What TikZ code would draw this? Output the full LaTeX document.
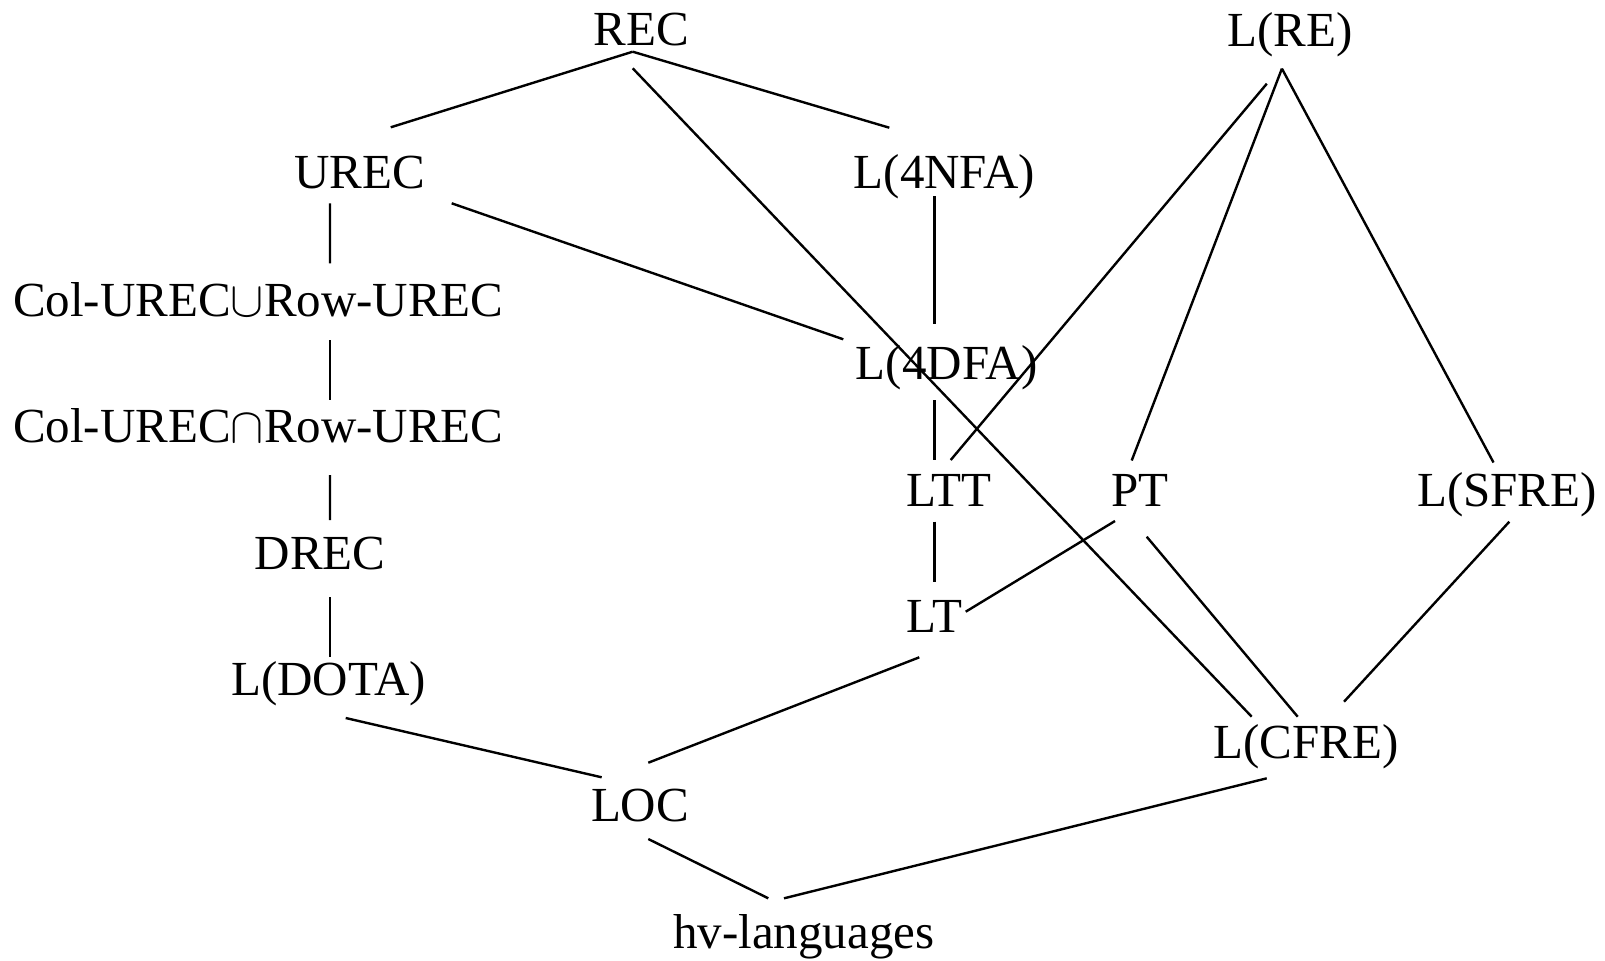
\documentclass[tikz,border=0pt]{standalone}
\usepackage{fontspec}
\setmainfont{Liberation Serif}
\usetikzlibrary{calc}

\tikzset{
  cls/.style={inner sep=0pt, outer sep=0pt, anchor=base,
              font=\fontsize{24.5}{28}\selectfont},
  edge/.style={line width=1.2pt, black}
}

\begin{document}
\begin{tikzpicture}[x=0.5pt, y=-0.5pt]
\useasboundingbox (0,0) rectangle (1605,960);

% language classes (placed by baseline)
\node[cls] (rec)   at (641.3,45.5)  {REC};
\node[cls] (lre)   at (1289.7,46)   {L(RE)};
\node[cls] (urec)  at (359.7,188.3) {UREC};
\node[cls] (l4nfa) at (944.5,188.3) {L(4NFA)};
\node[cls] (colu)  at (258.3,316.7) {Col-UREC$\cup$Row-UREC};
\node[cls] (l4dfa) at (946.7,379.5) {L(4DFA)};
\node[cls] (coli)  at (258.3,442.5) {Col-UREC$\cap$Row-UREC};
\node[cls] (ltt)   at (948.8,506)   {LTT};
\node[cls] (pt)    at (1139.8,506)  {PT};
\node[cls] (lsfre) at (1507,506)    {L(SFRE)};
\node[cls] (drec)  at (320,569.3)   {DREC};
\node[cls] (lt)    at (934.5,632.7) {LT};
\node[cls] (ldota) at (328.5,695.5) {L(DOTA)};
\node[cls] (lcfre) at (1306,758.5)  {L(CFRE)};
\node[cls] (loc)   at (640,821.8)   {LOC};
\node[cls] (hv)    at (803.7,948)   {hv-languages};

% inclusions
\draw[edge] ($(rec.base)+(-8.6,6.2)$)    -- ($(urec.base)+(31,-61)$);
\draw[edge] ($(rec.base)+(-8.6,6.2)$)    -- ($(l4nfa.base)+(-55.2,-60.6)$);
\draw[edge] ($(rec.base)+(-8.6,22.8)$)   -- ($(lcfre.base)+(-54.3,-41.8)$);

\draw[edge] ($(urec.base)+(-29.7,15)$)   -- ($(colu.base)+(71.7,-53.4)$);
\draw[edge] ($(urec.base)+(92,15)$)      -- ($(l4dfa.base)+(-103.4,-40.2)$);
\draw[edge] ($(colu.base)+(71.7,23.3)$)  -- ($(coli.base)+(71.7,-42.5)$);
\draw[edge] ($(coli.base)+(71.7,32.5)$)  -- ($(drec.base)+(10,-49.3)$);
\draw[edge] ($(drec.base)+(10,28)$)      -- ($(ldota.base)+(1.5,-38.2)$);
\draw[edge] ($(ldota.base)+(17.2,22.5)$) -- ($(loc.base)+(-38.3,-44.5)$);

\draw[edge] ($(l4nfa.base)+(-10,7.7)$)   -- ($(l4dfa.base)+(-12.2,-55.5)$);
\draw[edge] ($(l4dfa.base)+(-12.3,20.5)$)-- ($(ltt.base)+(-14.4,-46)$);
\draw[edge] ($(ltt.base)+(-14.4,15.7)$)  -- ($(lt.base)+(-0.1,-51)$);
\draw[edge] ($(pt.base)+(-24.8,15)$)     -- ($(lt.base)+(31.2,-21)$);
\draw[edge] ($(lt.base)+(-15.2,24.6)$)   -- ($(loc.base)+(8.3,-59.1)$);

\draw[edge] ($(lre.base)+(-22.9,37.7)$)  -- ($(ltt.base)+(1.9,-46)$);
\draw[edge] ($(lre.base)+(-7.8,22.6)$)   -- ($(pt.base)+(-8.1,-45.5)$);
\draw[edge] ($(lre.base)+(-7.8,22.6)$)   -- ($(lsfre.base)+(-13.5,-43.5)$);

\draw[edge] ($(pt.base)+(6.9,30.7)$)     -- ($(lcfre.base)+(-8.3,-41.8)$);
\draw[edge] ($(lsfre.base)+(2.3,15.7)$)  -- ($(lcfre.base)+(38,-56.8)$);

\draw[edge] ($(loc.base)+(8.3,17.2)$)    -- ($(hv.base)+(-35.4,-49.7)$);
\draw[edge] ($(lcfre.base)+(-39.3,19.8)$)-- ($(hv.base)+(-19.7,-49.7)$);
\end{tikzpicture}
\end{document}
